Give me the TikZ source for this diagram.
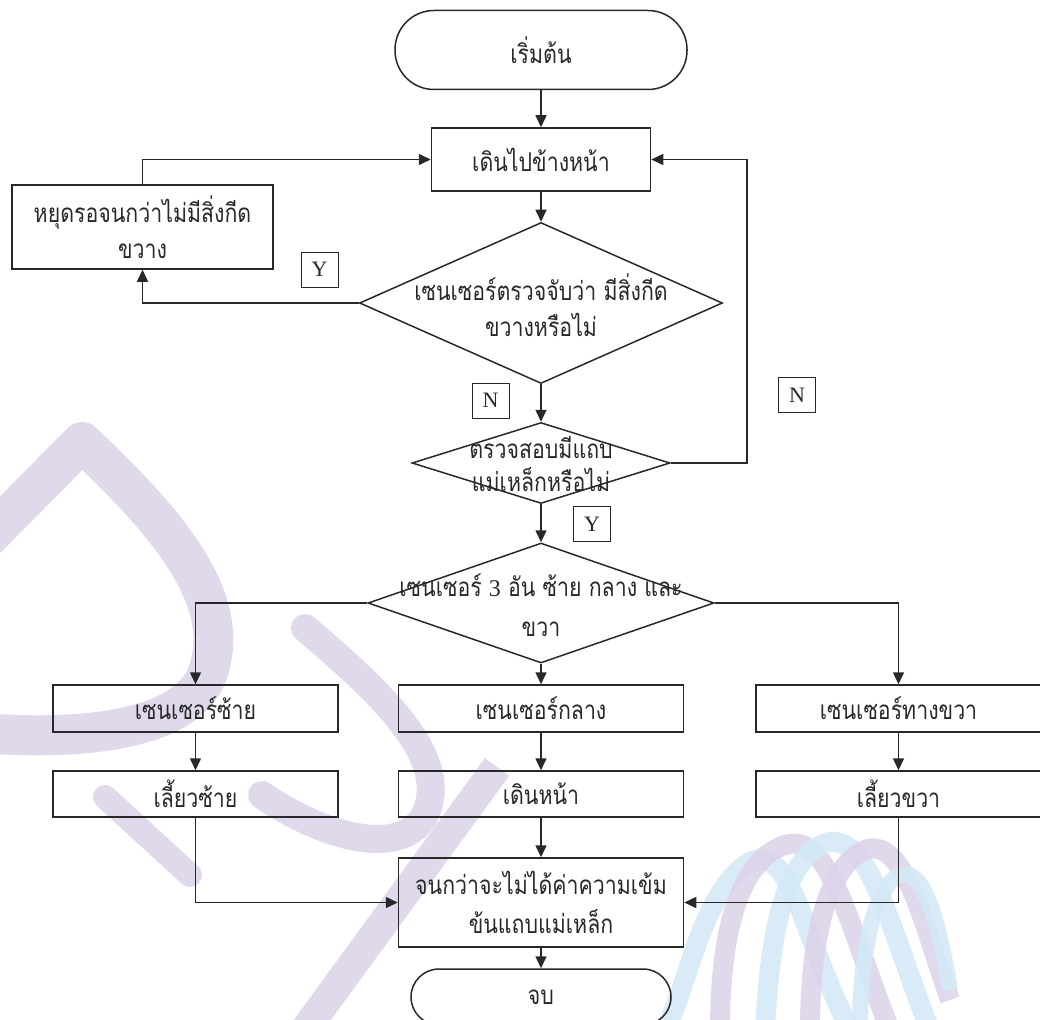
\documentclass[tikz,border=0pt]{standalone}
\usepackage{fontspec}
\setmainfont{Liberation Serif}
\newfontfamily\thai[Script=Thai,FakeStretch=0.82]{Loma}
\usetikzlibrary{arrows.meta,shapes.geometric}

\definecolor{ink}{RGB}{40,40,40}
\definecolor{wmpurple}{RGB}{221,212,233}
\definecolor{wmblue}{RGB}{212,233,246}

\tikzset{
  flow/.style={draw=ink, line width=1.5pt},
  arr/.style={flow, -{Triangle[length=12pt,width=11pt]}},
  thaitext/.style={text=ink, font=\thai\fontsize{26}{36}\selectfont, align=center},
  stepbox/.style={flow, thaitext, rectangle, inner sep=0pt},
  terminal/.style={stepbox},
  decision/.style={flow, diamond, inner sep=0pt},
  tag/.style={draw=ink, line width=1pt, text=ink, inner sep=0pt,
    minimum width=37pt, minimum height=35pt, font=\fontsize{22}{22}\selectfont},
  band/.style={line width=#1, line cap=butt, line join=round},
}

\begin{document}
\begin{tikzpicture}[x=1pt,y=-1pt]
\useasboundingbox (0,0) rectangle (1040,1019);

% faint emblem in the background
\begin{scope}[opacity=0.9]
  \draw[wmpurple, band=40pt] (-30,555) -- (82,442)
    .. controls (172,527) and (232,600) .. (208,672)
    .. controls (190,725) and (100,742) .. (-20,733);
  \draw[wmpurple, band=28pt, line cap=round] (305,628) .. controls (390,700) and (450,760) .. (425,815)
    .. controls (400,860) and (320,835) .. (262,795);
  \draw[wmpurple, band=24pt, line cap=round] (105,797) -- (190,875);
  \draw[wmpurple, band=30pt] (497,767) -- (305,1030);
  \begin{scope}
    \clip (560,780) rectangle (1040,1019);
    \draw[wmblue,   band=20pt] (665,1030) .. controls (690,980) and (700,900) .. (745,865) .. controls (790,835) and (800,930) .. (850,1030);
    \draw[wmpurple, band=20pt] (720,1030) .. controls (720,930) and (740,860) .. (785,845) .. controls (830,830) and (850,930) .. (890,1030);
    \draw[wmblue,   band=20pt] (765,1030) .. controls (770,930) and (785,860) .. (825,843) .. controls (870,830) and (890,930) .. (930,1030);
    \draw[wmpurple, band=20pt] (810,1030) .. controls (810,930) and (830,865) .. (865,850) .. controls (905,835) and (925,930) .. (950,1000);
    \draw[wmblue,   band=16pt] (860,1030) .. controls (860,950) and (875,885) .. (900,875) .. controls (925,865) and (940,930) .. (950,990);
  \end{scope}
\end{scope}

% main column
\node[terminal, rounded corners=39pt, minimum width=292pt, minimum height=79pt] (start) at (541,50) {เริ่มต้น};
\node[stepbox, minimum width=219pt, minimum height=63pt] (walk) at (541,159.5) {เดินไปข้างหน้า};
\node[stepbox, minimum width=261pt, minimum height=84pt] (stop) at (142.5,227) {หยุดรอจนกว่าไม่มีสิ่งกีด\\ขวาง};

\node[decision, minimum width=363pt, minimum height=161pt] (d1) at (541,303) {};
\node[thaitext] (d1t) at (541,305) {เซนเซอร์ตรวจจับว่า มีสิ่งกีด\\ขวางหรือไม่};

\node[decision, minimum width=258pt, minimum height=81pt] (d2) at (541,463) {};
\node[thaitext, font=\thai\fontsize{26}{33}\selectfont] (d2t) at (541,464) {ตรวจสอบมีแถบ\\แม่เหล็กหรือไม่};

\node[decision, minimum width=346pt, minimum height=120pt] (d3) at (541,603) {};
\node[thaitext, font=\thai\fontsize{26}{40}\selectfont] (d3t) at (541,605) {เซนเซอร์ {\normalfont\fontsize{24}{40}\selectfont 3} อัน ซ้าย กลาง และ\\ขวา};

% three branches
\node[stepbox, minimum width=285pt, minimum height=47pt] (sL) at (195.5,708.5) {เซนเซอร์ซ้าย};
\node[stepbox, minimum width=285pt, minimum height=47pt] (sM) at (541,708.5) {เซนเซอร์กลาง};
\node[stepbox, minimum width=285pt, minimum height=47pt] (sR) at (898.5,708.5) {เซนเซอร์ทางขวา};
\node[stepbox, minimum width=285pt, minimum height=46pt] (tL) at (195.5,794) {เลี้ยวซ้าย};
\node[stepbox, minimum width=285pt, minimum height=46pt] (tM) at (541,794) {เดินหน้า};
\node[stepbox, minimum width=285pt, minimum height=46pt] (tR) at (898.5,794) {เลี้ยวขวา};

\node[stepbox, minimum width=285pt, minimum height=89pt, font=\thai\fontsize{26}{39}\selectfont] (until) at (541,902.5) {จนกว่าจะไม่ได้ค่าความเข้ม\\ข้นแถบแม่เหล็ก};
\node[terminal, rounded corners=28pt, minimum width=260pt, minimum height=56pt] (end) at (541,997) {จบ};

% answer tags
\node[tag] (y1) at (319.5,269.5) {Y};
\node[tag] (n1) at (490.5,400.5) {N};
\node[tag] (n2) at (797,395) {N};
\node[tag] (y2) at (592,524) {Y};

% connectors
\draw[arr] (start) -- (walk);
\draw[arr] (walk) -- (d1);
\draw[arr] (d1.west) -| (stop.south);
\draw[arr] (stop.north) |- (walk.west);
\draw[arr] (d1.south) -- (d2.north);
\coordinate (loopR) at (747,159.5);
\draw[arr] (d2.east) -| (loopR) -- (walk.east);
\draw[arr] (d2.south) -- (d3.north);
\draw[arr] (d3.west) -| (sL.north);
\draw[arr] (d3.south) -- (sM.north);
\draw[arr] (d3.east) -| (sR.north);
\draw[arr] (sL) -- (tL);
\draw[arr] (sM) -- (tM);
\draw[arr] (sR) -- (tR);
\draw[arr] (tL.south) |- (until.west);
\draw[arr] (tM) -- (until);
\draw[arr] (tR.south) |- (until.east);
\draw[arr] (until) -- (end);
\end{tikzpicture}
\end{document}
